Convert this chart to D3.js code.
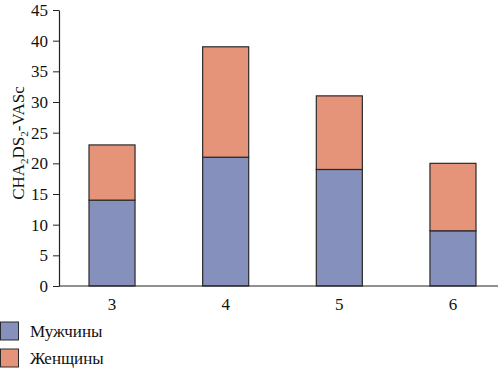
<!DOCTYPE html>
<html><head><meta charset="utf-8">
<script src="https://cdn.jsdelivr.net/npm/d3@7"></script>
<style>body{margin:0;background:#fff}svg text{font-family:'Liberation Serif','Times New Roman','DejaVu Serif',serif !important}</style>
</head><body>
<svg id="c" width="502" height="369"></svg>
<script>
const categories = ["3","4","5","6"];
const men = [14, 21, 19, 9];
const women = [9, 18, 12, 11];
const yTicks = [0,5,10,15,20,25,30,35,40,45];
const seriesNames = ["Мужчины","Женщины"];
const colors = ["#8590bc","#e5947a"];

const svg = d3.select("#c");
const x = d3.scaleBand().domain(categories).range([59, 506]).paddingInner(0.595).paddingOuter(0.264);
const y = d3.scaleLinear().domain([0,45]).range([286, 10]);

const data = categories.map((c,i)=>({c, m: men[i], w: women[i]}));
const stack = d3.stack().keys(["m","w"])(data);

svg.append("g").selectAll("g").data(stack).join("g")
  .attr("fill",(d,i)=>colors[i])
  .selectAll("rect").data(d=>d).join("rect")
  .attr("x", d=>x(d.data.c)).attr("width", x.bandwidth())
  .attr("y", d=>y(d[1])).attr("height", d=>y(d[0])-y(d[1]))
  .attr("stroke","#2a2a2a").attr("stroke-width",1.2);

// y axis
const ya = svg.append("g").attr("transform","translate(59,0)")
  .call(d3.axisLeft(y).tickValues(yTicks).tickSize(6).tickSizeOuter(0));
ya.attr("font-family",null);
ya.select(".domain").attr("stroke","#222").attr("stroke-width",1.2);
ya.selectAll(".tick line").attr("stroke","#222");
ya.selectAll("text").attr("font-size",17).attr("fill","#111").attr("x",-11);

// x axis
svg.append("line").attr("x1",59).attr("x2",498).attr("y1",y(0)).attr("y2",y(0)).attr("stroke","#222").attr("stroke-width",1.2);
svg.append("g").selectAll("text").data(categories).join("text")
  .attr("x", d=>x(d)+x.bandwidth()/2).attr("y", 310)
  .attr("text-anchor","middle").attr("font-size",17).attr("fill","#111").text(d=>d);

// y label
const lab = svg.append("text").attr("transform","translate(24,143) rotate(-90)")
  .attr("text-anchor","middle").attr("font-size",17).attr("fill","#111");
lab.append("tspan").text("CHA");
lab.append("tspan").attr("font-size",11).attr("dy",4).text("2");
lab.append("tspan").attr("dy",-4).text("DS");
lab.append("tspan").attr("font-size",11).attr("dy",4).text("2");
lab.append("tspan").attr("dy",-4).text("-VASc");

// legend
const lg = svg.append("g").selectAll("g").data(seriesNames).join("g")
  .attr("transform",(d,i)=>`translate(0,${322+i*27})`);
lg.append("rect").attr("x",0.5).attr("y",0).attr("width",18).attr("height",18)
  .attr("fill",(d,i)=>colors[i]).attr("stroke","#2a2a2a").attr("stroke-width",1);
lg.append("text").attr("x",30).attr("y",15).attr("font-size",17).attr("fill","#111").text(d=>d);
</script>
</body></html>
